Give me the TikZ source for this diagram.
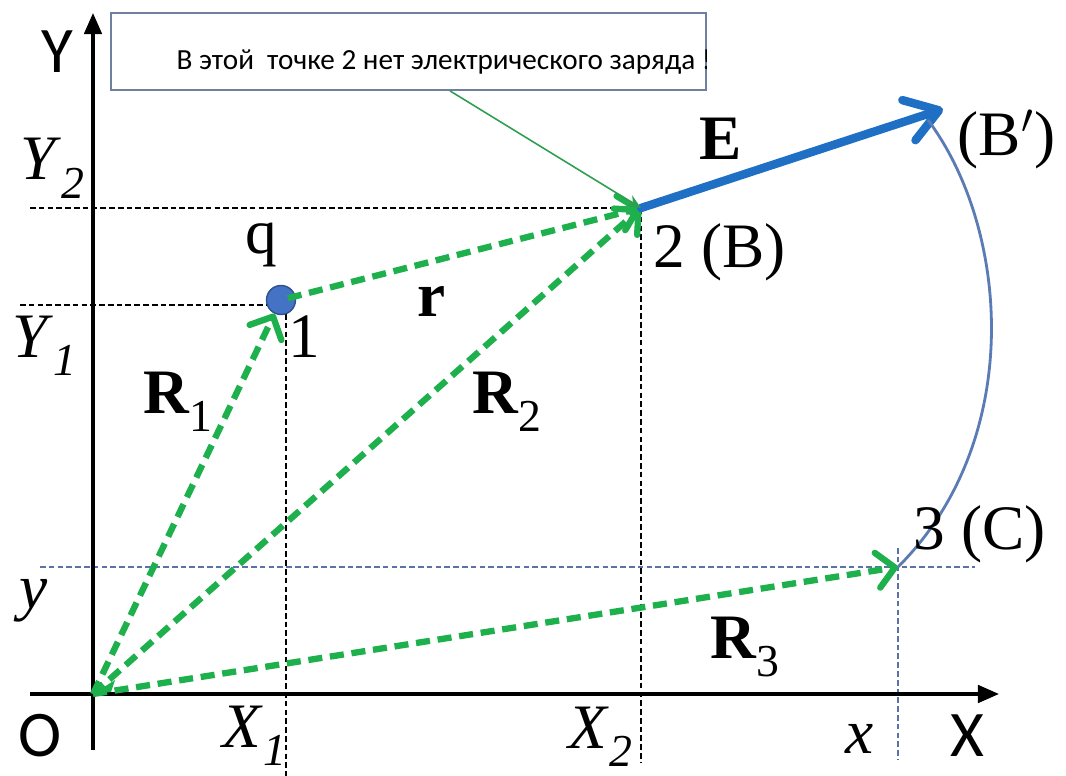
\documentclass[tikz,border=0pt]{standalone}
\usepackage{fontspec}
\setmainfont{Liberation Serif}
\newfontfamily\carl{Carlito}
\usetikzlibrary{arrows.meta}
\definecolor{vgreen}{HTML}{1DB04C}
\definecolor{thgreen}{HTML}{2E9E50}
\definecolor{eblue}{HTML}{1F6FC5}
\definecolor{qfill}{HTML}{4472C4}
\definecolor{qdraw}{HTML}{2F528F}
\definecolor{arcblue}{HTML}{5B7BB5}
\definecolor{dblue}{HTML}{5A72A8}
\definecolor{boxgray}{HTML}{6F7FA0}
\newcommand{\lsub}[1]{\raisebox{-0.3em}{\fontsize{13}{14}\selectfont #1}}
\tikzset{
  lbl/.style={inner sep=0pt, font=\fontsize{18}{20}\selectfont},
  slbl/.style={inner sep=0pt, font=\carl\fontsize{18.5}{20}\selectfont},
  axis/.style={line width=0.9pt, -{Triangle[length=6pt,width=5pt]}},
  vec/.style={vgreen, line width=1.8pt, dash pattern=on 4pt off 2.2pt,
     -{Straight Barb[length=5pt,width=10pt,round]}},
  helper/.style={black, line width=0.45pt, dash pattern=on 1.6pt off 0.9pt},
  bhelper/.style={dblue, line width=0.55pt, dash pattern=on 1.6pt off 0.9pt},
}
\begin{document}
\begin{tikzpicture}[x=0.01cm,y=-0.01cm]
\useasboundingbox (0,0) rectangle (1066,776);
% key points
\coordinate (O) at (93,694);
\coordinate (P2) at (641,208);
\coordinate (P3) at (898,567);
\coordinate (Bp) at (943,109);
% helper dashed lines
\coordinate (y2s) at (30,208);
\coordinate (y1s) at (20,305);
\coordinate (y1e) at (276,305);
\coordinate (x1s) at (286,314);
\coordinate (x1e) at (286,776);
\coordinate (x2e) at (641,762);
\coordinate (ys) at (40,567);
\coordinate (ye) at (975,567);
\coordinate (xs) at (898,548);
\coordinate (xe) at (898,760);
\draw[helper] (y2s) -- (P2);
\draw[helper] (y1s) -- (y1e);
\draw[helper] (x1s) -- (x1e);
\draw[helper] (P2) -- (x2e);
\draw[bhelper] (ys) -- (ye);
\draw[bhelper] (xs) -- (xe);
% axes
\coordinate (yb) at (93,750);
\coordinate (yt) at (93,13);
\coordinate (xl) at (30,694);
\coordinate (xr) at (999,694);
\draw[axis] (yb) -- (yt);
\draw[axis] (xl) -- (xr);
% charge
\node[circle, minimum size=0.29cm, inner sep=0pt, fill=qfill, draw=qdraw, line width=0.4pt] (q) at (281,300) {};
% vectors
\draw[vec] (O) -- (q);
\draw[vec] (O) -- (P2);
\draw[vec] (O) -- (P3);
\draw[vec, shorten <=2pt] (q.center) -- (P2);
\fill[vgreen] (O) -- ++(22,-14) -- ++(-4,12) -- cycle;
% E vector
\draw[eblue, line width=2.4pt, line cap=round, -{Straight Barb[length=9pt,width=12pt,round]}] (P2) -- (Bp);
% arc
\coordinate (arcs) at (928,120);
\draw[arcblue, line width=0.8pt] (arcs) .. controls (1010,230) and (1025,440) .. (P3);
% text box
\node[draw=boxgray, line width=0.5pt, minimum width=5.95cm, minimum height=0.77cm, inner sep=0pt] (box) at (408.5,51.5) {};
\begin{scope}
\clip (0,0) rectangle (706,776);
\node[inner sep=0pt, anchor=base west, font=\carl\fontsize{8.3}{9}\selectfont] (boxtxt) at (176,70) {В этой\ \ точке 2 нет электрического заряда !};
\end{scope}
\path (box.south) ++(41.5,0) coordinate (ba);
\draw[thgreen, line width=0.45pt, -{Stealth[length=4pt,width=3.5pt]}] (ba) -- (P2);
% labels
\node[slbl, anchor=base] (lY) at (57,73) {Y};
\node[slbl, anchor=base] (lO) at (40,756) {O};
\node[slbl, anchor=base west] (lX) at (950,756) {X};
\node[lbl, anchor=base west] (lY2) at (20,180) {\textit{Y}\lsub{\textit{2}}};
\node[lbl, anchor=base west] (lY1) at (12,357) {\textit{Y}\lsub{\textit{1}}};
\node[lbl, anchor=base west] (ly) at (19,608) {\textit{y}};
\node[lbl, anchor=base west] (lX1) at (222,747) {\textit{X}\lsub{\textit{1}}};
\node[lbl, anchor=base west] (lX2) at (568,748) {\textit{X}\lsub{\textit{2}}};
\node[lbl, anchor=base west] (lx) at (845,753) {\textit{x}};
\node[lbl, anchor=base west] (lq) at (245,254) {q};
\node[lbl, anchor=base] (l1) at (304,357) {1};
\node[lbl, anchor=base] (lr) at (432,317) {\textbf{r}};
\node[lbl, anchor=base west] (lR1) at (143,413) {\textbf{R}\lsub{1}};
\node[lbl, anchor=base west] (lR2) at (472,413) {\textbf{R}\lsub{2}};
\node[lbl, anchor=base west] (lR3) at (710,658) {\textbf{R}\lsub{3}};
\node[lbl, anchor=base] (lE) at (721,160) {\textbf{E}};
\node[lbl, anchor=base west] (l2B) at (653,268) {2 (B)};
\node[lbl, anchor=base west] (lBp) at (957,156) {(B$'$)};
\node[lbl, anchor=base west] (l3C) at (913,550) {3 (C)};
\end{tikzpicture}
\end{document}
